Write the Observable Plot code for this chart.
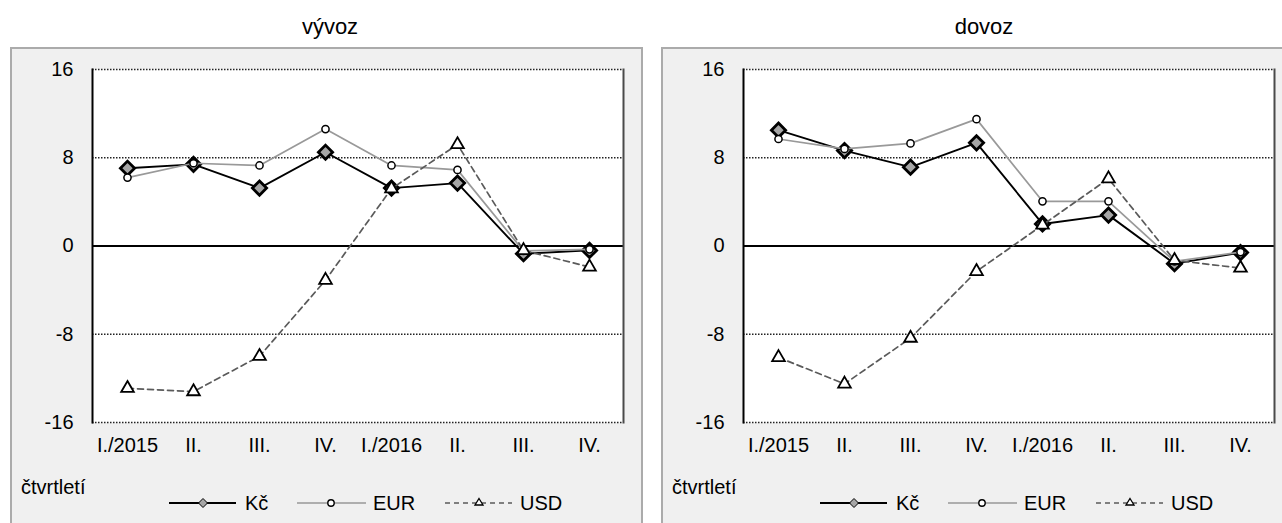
<!DOCTYPE html>
<html><head><meta charset="utf-8">
<script src="https://cdn.jsdelivr.net/npm/d3@7"></script>
<script src="https://cdn.jsdelivr.net/npm/@observablehq/plot@0.6"></script>
<style>
html,body{margin:0;padding:0;background:#fff;}
body{width:1282px;height:523px;overflow:hidden;position:relative;font-family:"Liberation Sans",Arial,sans-serif;color:#000;}
.title{position:absolute;top:14px;font-size:22px;line-height:26px;transform:translateX(-50%);white-space:nowrap;}
.panel{position:absolute;top:47px;width:633px;height:500px;background:#f0f0f0;border:2px solid #ababab;box-sizing:border-box;}
.chart{position:absolute;top:47px;width:633px;height:476px;}
.lt{position:absolute;font-size:20px;line-height:22px;height:22px;white-space:nowrap;}
.sw{position:absolute;overflow:visible;}
</style></head><body>
<script>
// ---- data ----
const quarterKeys = ["2015Q1","2015Q2","2015Q3","2015Q4","2016Q1","2016Q2","2016Q3","2016Q4"];
const quarterLabels = ["I./2015","II.","III.","IV.","I./2016","II.","III.","IV."];
const yTicks = [16, 8, 0, -8, -16];
const gridValues = [16, 8, -8, -16];
const seriesNames = ["Kč", "EUR", "USD"];
const panelTitles = ["vývoz", "dovoz"];
const axisTitle = "čtvrtletí";

const vyvozKc  = [7.05, 7.4, 5.25, 8.5, 5.25, 5.7, -0.7, -0.4];
const vyvozEur = [6.2, 7.5, 7.3, 10.6, 7.3, 6.9, -0.45, -0.3];
const vyvozUsd = [-12.9, -13.2, -10.0, -3.1, 5.2, 9.2, -0.4, -1.9];

const dovozKc  = [10.5, 8.65, 7.15, 9.35, 2.0, 2.8, -1.6, -0.6];
const dovozEur = [9.7, 8.8, 9.3, 11.5, 4.05, 4.05, -1.4, -0.55];
const dovozUsd = [-10.1, -12.5, -8.35, -2.3, 1.9, 6.1, -1.3, -2.0];

const panels = [
  {title: panelTitles[0], kc: vyvozKc, eur: vyvozEur, usd: vyvozUsd, left: 10, titleX: 330},
  {title: panelTitles[1], kc: dovozKc, eur: dovozEur, usd: dovozUsd, left: 661, titleX: 984}
];

const font = "'Liberation Sans', Arial, sans-serif";

function rows(s) { return quarterKeys.map((q, i) => ({q, v: s[i]})); }

function chart(kc, eur, usd) {
  return Plot.plot({
    width: 633, height: 476,
    marginLeft: 82, marginRight: 20, marginTop: 22, marginBottom: 101,
    style: {background: "transparent", fontFamily: font, fontSize: "20px", color: "black", overflow: "visible"},
    x: {type: "point", domain: quarterKeys, padding: 0.5, tickSize: 0, tickPadding: 15,
        tickFormat: k => quarterLabels[quarterKeys.indexOf(k)], label: null},
    y: {domain: [-16, 16], ticks: yTicks, tickSize: 0, tickPadding: 19,
        tickFormat: d => String(d), label: null},
    marks: [
      Plot.frame({fill: "white", stroke: "none"}),
      Plot.ruleY(gridValues, {stroke: "#222", strokeWidth: 1.4, strokeDasharray: "1.5,1.5"}),
      Plot.ruleY([0], {stroke: "black", strokeWidth: 2}),
      Plot.frame({anchor: "left", stroke: "black", strokeWidth: 2}),
      Plot.frame({anchor: "right", stroke: "#4a4a4a", strokeWidth: 2}),
      Plot.line(rows(kc), {x: "q", y: "v", stroke: "black", strokeWidth: 1.9}),
      Plot.dot(rows(kc), {x: "q", y: "v", symbol: "diamond2", r: 6.4, fill: "#a6a6a6", stroke: "black", strokeWidth: 2.8}),
      Plot.line(rows(eur), {x: "q", y: "v", stroke: "#999999", strokeWidth: 1.7}),
      Plot.dot(rows(eur), {x: "q", y: "v", r: 3.6, fill: "white", stroke: "black", strokeWidth: 1.5}),
      Plot.line(rows(usd), {x: "q", y: "v", stroke: "#5a5a5a", strokeWidth: 1.7, strokeDasharray: "6,4"}),
      Plot.dot(rows(usd), {x: "q", y: "v", symbol: "triangle", r: 4.7, fill: "white", stroke: "black", strokeWidth: 1.8})
    ]
  });
}

function el(tag, cls, css, parent) {
  const e = document.createElement(tag);
  if (cls) e.className = cls;
  Object.assign(e.style, css);
  parent.appendChild(e);
  return e;
}

const swatches = [
  {x0: 159, x1: 226, cx: 193, tx: 235,
   svg: (cx) => `<line x1="0" x2="67" y1="6" y2="6" stroke="black" stroke-width="1.8"/><path d="M${cx},1.5 L${cx+4.5},6 L${cx},10.5 L${cx-4.5},6Z" fill="#a6a6a6" stroke="black" stroke-width="1"/>`},
  {x0: 287, x1: 356, cx: 321, tx: 363,
   svg: (cx) => `<line x1="0" x2="69" y1="6" y2="6" stroke="#999" stroke-width="1.6"/><circle cx="${cx}" cy="6" r="3.2" fill="white" stroke="black" stroke-width="1.4"/>`},
  {x0: 435, x1: 502, cx: 469, tx: 510,
   svg: (cx) => `<line x1="0" x2="67" y1="6" y2="6" stroke="#5a5a5a" stroke-width="1.6" stroke-dasharray="5,4"/><path d="M${cx},1.5 L${cx+4},8 L${cx-4},8Z" fill="white" stroke="black" stroke-width="1.3"/>`}
];

for (const p of panels) {
  el("div", "panel", {left: p.left + "px"}, document.body);
  const t = el("div", "title", {left: p.titleX + "px"}, document.body);
  t.textContent = p.title;
  const c = el("div", "chart", {left: p.left + "px"}, document.body);
  c.appendChild(chart(p.kc, p.eur, p.usd));
  const ax = el("div", "lt", {left: (p.left + 11) + "px", top: (47 + 440 - 11) + "px"}, document.body);
  ax.textContent = axisTitle;
  swatches.forEach((s, i) => {
    const w = s.x1 - s.x0;
    const holder = el("div", "", {position: "absolute", left: (p.left + s.x0) + "px", top: (47 + 456 - 6) + "px", width: w + "px", height: "12px"}, document.body);
    holder.innerHTML = `<svg class="sw" width="${w}" height="12" viewBox="0 0 ${w} 12">${s.svg(s.cx - s.x0)}</svg>`;
    const lt = el("div", "lt", {left: (p.left + s.tx) + "px", top: (47 + 456 - 11) + "px"}, document.body);
    lt.textContent = seriesNames[i];
  });
}
</script>
</body></html>
